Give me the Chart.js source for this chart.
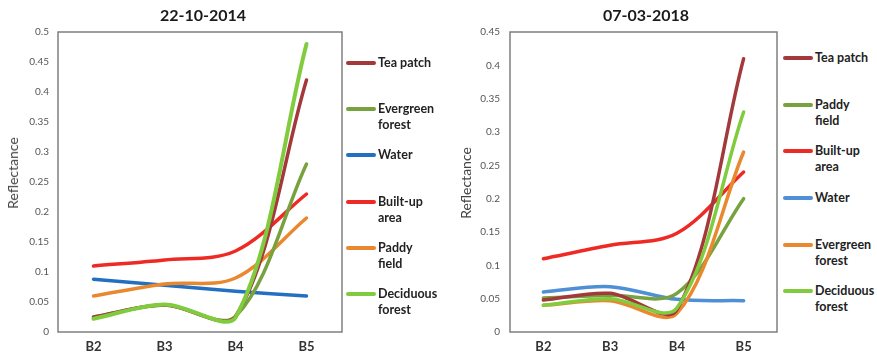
<!DOCTYPE html>
<html>
<head>
<meta charset="utf-8">
<script src="https://cdn.jsdelivr.net/npm/chart.js@4.4.1/dist/chart.umd.min.js"></script>
<style>
  html, body { margin: 0; padding: 0; background: #fff; }
  body { width: 877px; height: 356px; position: relative; overflow: hidden; font-family: Lato, "Open Sans", sans-serif; }
  .wrap { position: absolute; top: 0; height: 356px; }
  .title { position: absolute; font-weight: bold; font-size: 16px; color: #1a1a1a; transform: translateX(-50%); white-space: nowrap; }
  .ytitle { position: absolute; font-size: 14px; color: #444; white-space: nowrap; transform: translate(-50%, -50%) rotate(-90deg); line-height: 16px; }
  .leg { position: absolute; font-weight: bold; font-size: 12.5px; line-height: 16px; color: #222; white-space: nowrap; }
  .leg .ln { position: absolute; left: 0; top: 6px; width: 30px; height: 3.5px; border-radius: 2px; }
  .leg .tx { position: absolute; left: 32px; top: 0; }
</style>
</head>
<body>
<div class="wrap" id="w1" style="left:0;width:345px;"><canvas id="c1"></canvas></div>
<div class="wrap" id="w2" style="left:445px;width:335px;"><canvas id="c2"></canvas></div>
<div class="title" style="left:203px;top:5px;">22-10-2014</div>
<div class="title" style="left:646px;top:5px;">07-03-2018</div>
<div class="ytitle" style="left:13px;top:173px;">Reflectance</div>
<div class="ytitle" style="left:466px;top:183px;">Reflectance</div>
<div id="legends"></div>
<script>
// ---------- data ----------
const bands = ['B2', 'B3', 'B4', 'B5'];

// 22-10-2014
const tea2014       = [0.025, 0.045, 0.026, 0.42];
const evergreen2014 = [0.025, 0.045, 0.026, 0.28];
const water2014     = [0.088, 0.078, 0.068, 0.06];
const builtup2014   = [0.110, 0.120, 0.135, 0.23];
const paddy2014     = [0.060, 0.080, 0.090, 0.19];
const deciduous2014 = [0.022, 0.046, 0.024, 0.48];

// 07-03-2018
const tea2018       = [0.048, 0.058, 0.033, 0.41];
const paddy2018     = [0.051, 0.055, 0.058, 0.20];
const builtup2018   = [0.110, 0.130, 0.148, 0.24];
const water2018     = [0.060, 0.068, 0.049, 0.047];
const evergreen2018 = [0.040, 0.047, 0.028, 0.27];
const deciduous2018 = [0.040, 0.050, 0.036, 0.33];

const yMax2014 = 0.5, yMax2018 = 0.45, yStep = 0.05;

// ---------- styles ----------
const C = {
  darkred: '#a3393b', olive: '#78a23e', blue: '#2470c0', lightblue: '#4f8fd6',
  red: '#ee2a24', orange: '#e9882e', lightgreen: '#80cc3e'
};
const FONT = 'Lato, "Open Sans", sans-serif';

const boxPlugin = {
  id: 'box',
  afterDraw(chart) {
    const a = chart.chartArea, ctx = chart.ctx;
    ctx.save();
    ctx.strokeStyle = '#7f7f7f';
    ctx.lineWidth = 1.5;
    ctx.strokeRect(a.left, a.top, a.right - a.left, a.bottom - a.top);
    ctx.restore();
  }
};

function ds(label, data, color, w) {
  return { label, data, borderColor: color, backgroundColor: color, borderWidth: w || 3.5,
           pointRadius: 0, tension: 0.33, fill: false, borderCapStyle: 'round' };
}

function makeChart(id, datasets, yMax, yAxisWidth, tickPad) {
  return new Chart(document.getElementById(id), {
    type: 'line',
    data: { labels: bands, datasets },
    plugins: [boxPlugin],
    options: {
      responsive: true, maintainAspectRatio: false, animation: false,
      layout: { padding: { top: 32, right: 3, left: 0, bottom: 0 } },
      plugins: { legend: { display: false }, tooltip: { enabled: false } },
      scales: {
        x: {
          offset: true,
          grid: { display: false, drawTicks: false },
          border: { display: false },
          ticks: { padding: 7, color: '#333', font: { family: FONT, size: 13, weight: 'bold' } },
          afterFit(s) { s.height = 24; }
        },
        y: {
          min: 0, max: yMax,
          grid: { display: false, drawTicks: false },
          border: { display: false },
          ticks: { stepSize: yStep, padding: tickPad, color: '#555', font: { family: FONT, size: 10 },
                   callback: v => String(Math.round(v * 100) / 100) },
          afterFit(s) { s.width = yAxisWidth; }
        }
      }
    }
  });
}

makeChart('c1', [
  ds('Deciduous forest', deciduous2014, C.lightgreen, 4),
  ds('Tea patch', tea2014, C.darkred),
  ds('Evergreen forest', evergreen2014, C.olive),
  ds('Built-up area', builtup2014, C.red),
  ds('Paddy field', paddy2014, C.orange),
  ds('Water', water2014, C.blue)
], yMax2014, 58, 9);

makeChart('c2', [
  ds('Deciduous forest', deciduous2018, C.lightgreen),
  ds('Tea patch', tea2018, C.darkred),
  ds('Evergreen forest', evergreen2018, C.orange),
  ds('Paddy field', paddy2018, C.olive),
  ds('Built-up area', builtup2018, C.red),
  ds('Water', water2018, C.lightblue)
], yMax2018, 65, 10);

// ---------- legends (HTML text) ----------
const legend2014 = [
  ['Tea patch', C.darkred, 63], ['Evergreen<br>forest', C.olive, 109], ['Water', C.blue, 155],
  ['Built-up<br>area', C.red, 202], ['Paddy<br>field', C.orange, 248], ['Deciduous<br>forest', C.lightgreen, 294]
];
const legend2018 = [
  ['Tea patch', C.darkred, 58], ['Paddy<br>field', C.olive, 105], ['Built-up<br>area', C.red, 151],
  ['Water', C.lightblue, 198], ['Evergreen<br>forest', C.orange, 245], ['Deciduous<br>forest', C.lightgreen, 291]
];
const L = document.getElementById('legends');
function addLegend(items, x) {
  items.forEach(([t, c, y]) => {
    const d = document.createElement('div');
    d.className = 'leg';
    d.style.left = x + 'px';
    d.style.top = (y - 8) + 'px';
    d.innerHTML = '<span class="ln" style="background:' + c + '"></span><span class="tx">' + t + '</span>';
    L.appendChild(d);
  });
}
addLegend(legend2014, 346);
addLegend(legend2018, 783);
</script>
</body>
</html>
